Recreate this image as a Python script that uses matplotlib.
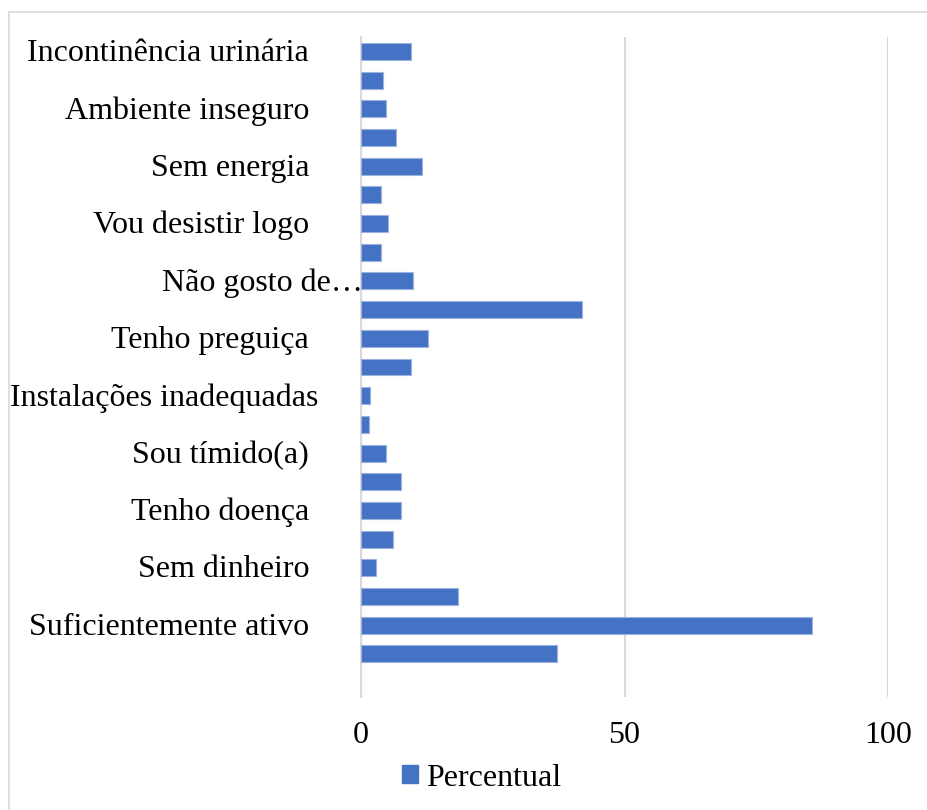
#!/usr/bin/env python3
"""Horizontal bar chart of reasons for physical inactivity (percent)."""

import matplotlib

matplotlib.use("Agg")
import matplotlib.pyplot as plt  # noqa: E402
from matplotlib.patches import Patch, Rectangle  # noqa: E402

# categories listed top to bottom; Excel only printed every other label
categories = [
    "Incontinência urinária", "",
    "Ambiente inseguro", "",
    "Sem energia", "",
    "Vou desistir logo", "",
    "Não gosto de…", "",
    "Tenho preguiça", "",
    "Instalações inadequadas", "",
    "Sou tímido(a)", "",
    "Tenho doença", "",
    "Sem dinheiro", "",
    "Suficientemente ativo", "",
]
percentual = [
    9.5, 4.2, 4.7, 6.6, 11.5, 3.8, 5.2, 3.8, 9.9, 41.9, 12.7,
    9.5, 1.8, 1.5, 4.7, 7.5, 7.5, 6.1, 2.8, 18.5, 85.6, 37.2,
]
x_ticks = [0, 50, 100]

BAR = "#4472C4"
GRID = "#d9d9d9"
FONT = "Liberation Serif"
FS = 23

plt.rcParams["font.family"] = [FONT, "DejaVu Serif"]

fig = plt.figure(figsize=(9.28, 8.10), dpi=100)
ax = fig.add_axes([361 / 928, 113 / 810, 527 / 928, 660 / 810])

n = len(categories)
# one empty slot at the bottom, like the reference
ys = [n - i for i in range(n)]
ax.barh(ys, percentual, height=0.59, color=BAR, edgecolor="#9db3df",
        linewidth=0.8, zorder=3)

ax.set_xlim(0, 100)
ax.set_ylim(-0.5, n + 0.5)
ax.set_xticks(x_ticks)
ax.set_xticklabels([str(t) for t in x_ticks], fontsize=FS)
ax.tick_params(axis="x", length=0, pad=17)
ax.set_yticks([])
for s in ("top", "right", "bottom"):
    ax.spines[s].set_visible(False)
ax.spines["left"].set_color(GRID)
ax.spines["left"].set_linewidth(1.5)
ax.xaxis.grid(True, color=GRID, linewidth=1.5, zorder=0)
ax.set_axisbelow(True)

# Excel nudged a couple of labels; offsets in points from the axis line
offsets = {"Não gosto de…": 1.5, "Instalações inadequadas": -31.0}
for y, label in zip(ys, categories):
    if not label:
        continue
    dx = offsets.get(label, -37.4)
    ax.annotate(label, xy=(0, y), xycoords=("axes fraction", "data"),
                xytext=(dx, -1.5), textcoords="offset points",
                ha="right", va="center", fontsize=FS)

handle = Patch(facecolor=BAR, edgecolor=BAR)
fig.legend([handle], ["Percentual"], loc="center",
           bbox_to_anchor=(0.519, 1 - 778 / 810), frameon=False,
           fontsize=FS, handlelength=0.5, handleheight=0.5,
           handletextpad=0.25, borderpad=0, borderaxespad=0)

# chart-area border (cropped on the right and bottom)
fig.patches.append(Rectangle((9 / 928, -0.05), 1.2, 1.05 - 12 / 810,
                             transform=fig.transFigure, fill=False,
                             edgecolor=GRID, linewidth=1.2))

fig.savefig("out.png", dpi=100)
plt.close(fig)
